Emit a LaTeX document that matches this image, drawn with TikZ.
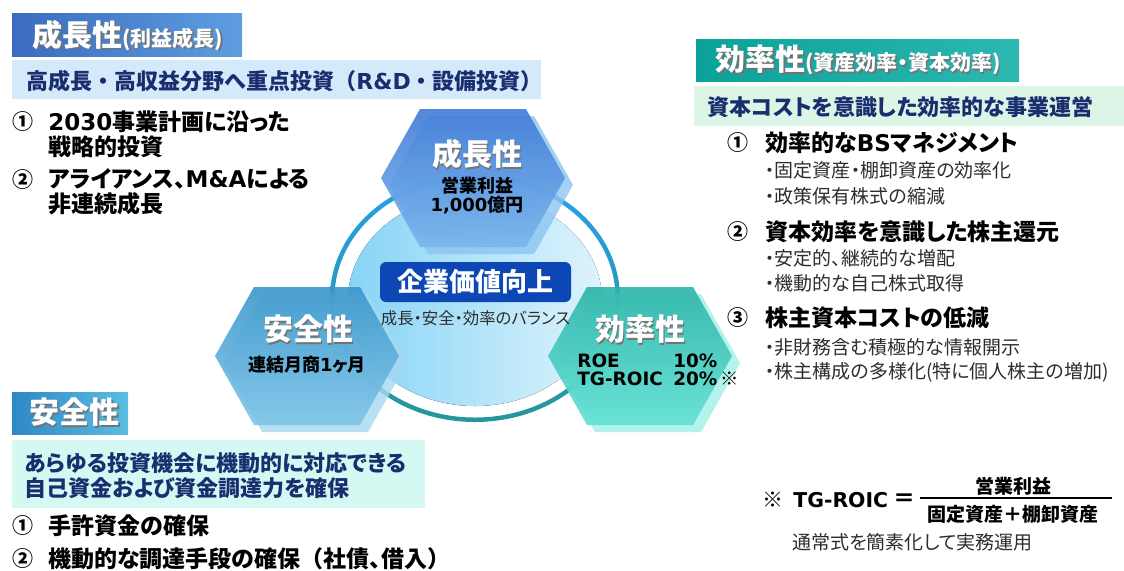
\documentclass[tikz,border=0pt]{standalone}
\usepackage{fontspec}
\setmainfont{Noto Sans CJK JP}[RawFeature=+palt]
\newfontfamily\cjkfw{Noto Sans CJK JP}
\newfontfamily\vfont{DejaVu Sans}
\usepackage{tikz}
\usetikzlibrary{positioning,calc}
\definecolor{kpiNavy}{RGB}{24,46,110}
\definecolor{kpiBlueA}{RGB}{58,107,192}
\definecolor{kpiBlueB}{RGB}{94,158,224}
\definecolor{kpiTealA}{RGB}{10,162,154}
\definecolor{kpiTealB}{RGB}{44,184,176}
\definecolor{kpiSkyA}{RGB}{46,136,196}
\definecolor{kpiSkyB}{RGB}{91,189,226}
\definecolor{bandBlue}{RGB}{212,234,250}
\definecolor{bandGreen}{RGB}{220,245,230}
\definecolor{bandMint}{RGB}{212,248,242}
\definecolor{ringBlue}{RGB}{40,160,232}
\definecolor{ringTeal}{RGB}{38,150,154}
\definecolor{discA}{RGB}{134,212,246}
\definecolor{discB}{RGB}{222,243,252}
\definecolor{valueBox}{RGB}{13,71,181}
\definecolor{hexGa}{RGB}{63,122,214}
\definecolor{hexGb}{RGB}{122,182,236}
\definecolor{hexGc}{RGB}{140,196,242}
\definecolor{hexSa}{RGB}{58,150,203}
\definecolor{hexSb}{RGB}{128,198,232}
\definecolor{hexSc}{RGB}{166,216,242}
\definecolor{hexEa}{RGB}{44,179,169}
\definecolor{hexEb}{RGB}{99,225,213}
\definecolor{hexEc}{RGB}{160,240,230}
\definecolor{subGray}{RGB}{45,45,45}
\newcommand\shd[1]{\makebox[0pt][l]{\kern0.8pt\raisebox{-0.8pt}{\color{black!55}#1}}#1}

\begin{document}
\begin{tikzpicture}[x=0.5pt,y=-0.5pt,
  head/.style={anchor=west,text=white,font=\bfseries\fontsize{15}{16}\selectfont,inner sep=0pt},
  band/.style={anchor=west,text=kpiNavy,font=\bfseries\fontsize{11}{12.5}\selectfont,inner sep=0pt,align=left},
  num/.style={font=\bfseries\fontsize{10.5}{12}\selectfont,inner sep=0pt},
  item/.style={anchor=west,font=\bfseries\fontsize{11.5}{12.5}\selectfont,inner sep=0pt,align=left},
  sub/.style={anchor=west,text=subGray,font=\fontsize{9.5}{11}\selectfont,inner sep=0pt},
  hexa/.pic={\path[pic actions] (-92,0) -- (-53,-69) -- (53,-69) -- (92,0) -- (53,69) -- (-53,69) -- cycle;},
  hextitle/.style={text=white,font=\bfseries\fontsize{15}{16}\selectfont,inner sep=0pt},
  hexsub/.style={font=\bfseries\fontsize{9}{9.5}\selectfont,inner sep=0pt,align=center}]
\useasboundingbox (0,0) rectangle (1124,570);

% growth
\fill[left color=kpiBlueA,right color=kpiBlueB] (12,13) rectangle (242,56);
\node[head] (gHead) at (32,36) {\shd{成長性}\shd{\fontsize{10.5}{12}\selectfont(利益成長)}};
\fill[bandBlue] (12,60) rectangle (541,99);
\node[band] (gBand) at (26,81) {\cjkfw 高成長・高収益分野へ重点投資（{\vfont R\&D}・設備投資）};
\node[num] (g1n) at (23,122) {①};
\node[item] (g1) at (48,134.5) {{\vfont 2030}事業計画に沿った\\戦略的投資};
\node[num] (g2n) at (23,180) {②};
\node[item] (g2) at (48,192) {アライアンス、{\vfont M\&A}による\\非連続成長};

% efficiency
\fill[left color=kpiTealA,right color=kpiTealB] (696,39) rectangle (1019,81);
\node[head] (eHead) at (715,61) {\shd{効率性}\shd{\fontsize{10.5}{12}\selectfont(資産効率・資本効率)}};
\fill[bandGreen] (694,86) rectangle (1124,126);
\node[band] (eBand) at (707,107) {資本コストを意識した効率的な事業運営};
\node[num] (e1n) at (738,143) {①};
\node[item] (e1) at (765,143) {効率的な{\vfont BS}マネジメント};
\node[sub] (e1a) at (765,170) {・固定資産・棚卸資産の効率化};
\node[sub] (e1b) at (765,196) {・政策保有株式の縮減};
\node[num] (e2n) at (738,232) {②};
\node[item] (e2) at (765,232) {資本効率を意識した株主還元};
\node[sub] (e2a) at (765,258) {・安定的、継続的な増配};
\node[sub] (e2b) at (765,283) {・機動的な自己株式取得};
\node[num] (e3n) at (738,318) {③};
\node[item] (e3) at (765,318) {株主資本コストの低減};
\node[sub] (e3a) at (765,347) {・非財務含む積極的な情報開示};
\node[sub] (e3b) at (765,372) {・株主構成の多様化(特に個人株主の増加)};

% safety
\fill[left color=kpiSkyA,right color=kpiSkyB] (12,392) rectangle (128,434);
\node[head] (sHead) at (29,413) {\shd{安全性}};
\fill[bandMint] (12,440) rectangle (425,508);
\node[band] (sBand) at (24,475.5) {あらゆる投資機会に機動的に対応できる\\自己資金および資金調達力を確保};
\node[num] (s1n) at (23,526) {①};
\node[item] (s1) at (48,526) {手許資金の確保};
\node[num] (s2n) at (23,559) {②};
\node[item] (s2) at (48,559) {機動的な調達手段の確保{\cjkfw（}社債、借入{\cjkfw ）}};

% centre
\fill[left color=discA,right color=discB] (475,300) ellipse [x radius=127,y radius=106];
\path[even odd rule,top color=ringBlue,bottom color=ringTeal]
  (475,298) ellipse [x radius=145,y radius=124] (475,298) ellipse [x radius=140.5,y radius=119.5];
\pic[fill=hexGc,opacity=0.8] at (481,185) {hexa};
\pic[top color=hexGa,bottom color=hexGb,opacity=0.9] at (473,178) {hexa};
\pic[fill=hexSc,opacity=0.8] at (315,363) {hexa};
\pic[top color=hexSa,bottom color=hexSb,opacity=0.9] at (307,356) {hexa};
\pic[fill=hexEc,opacity=0.8] at (648,363) {hexa};
\pic[top color=hexEa,bottom color=hexEb,opacity=0.9] at (640,356) {hexa};
\node[fill=valueBox,rounded corners=3pt,text=white,font=\bfseries\fontsize{13}{14}\selectfont,
  minimum width=95.5pt,minimum height=20pt,inner sep=0pt] (value) at (475.5,282) {企業価値向上};
\node[below=4pt of value,inner sep=0pt,text=subGray,font=\fontsize{8.2}{9}\selectfont] (balance) {成長・安全・効率のバランス};
\node[hextitle] (gTitle) at (477,155) {\shd{成長性}};
\node[hexsub] (gVal) at (477,195.5) {営業利益\\{\vfont 1,000}億円};
\node[hextitle] (sTitle) at (308,330) {\shd{安全性}};
\node[hexsub] (sVal) at (307,365) {連結月商{\vfont 1}ヶ月};
\node[hextitle] (eTitle) at (640,330) {\shd{効率性}};
\node[hexsub,anchor=west,align=left,font=\bfseries\fontsize{9.2}{9}\selectfont\vfont] (eVal) at (577,370)
  {\makebox[70pt]{ROE\hfill 10\%}\\\makebox[70pt]{TG-ROIC\hfill 20\%}\rlap{\normalfont\,※}};

% formula
\node[num,font=\fontsize{10.5}{12}\selectfont] (fNote) at (773,500) {※};
\node[anchor=west,inner sep=0pt,font=\bfseries\fontsize{10.2}{12}\selectfont\vfont] (fName) at (793,500) {TG-ROIC};
\node[inner sep=0pt,font=\bfseries\fontsize{11}{12}\selectfont] (fEq) at (904,500) {＝};
\coordinate (fBarL) at (920,498);
\coordinate (fBarR) at (1112,498);
\draw[line width=0.6pt] (fBarL) -- (fBarR);
\node[hexsub,font=\bfseries\fontsize{9.5}{10}\selectfont] (fNum) at (1013,486) {営業利益};
\node[hexsub,font=\bfseries\fontsize{9.5}{10}\selectfont] (fDen) at (1013,514) {固定資産＋棚卸資産};
\node[sub] (fMemo) at (792,542) {通常式を簡素化して実務運用};
\end{tikzpicture}
\end{document}
